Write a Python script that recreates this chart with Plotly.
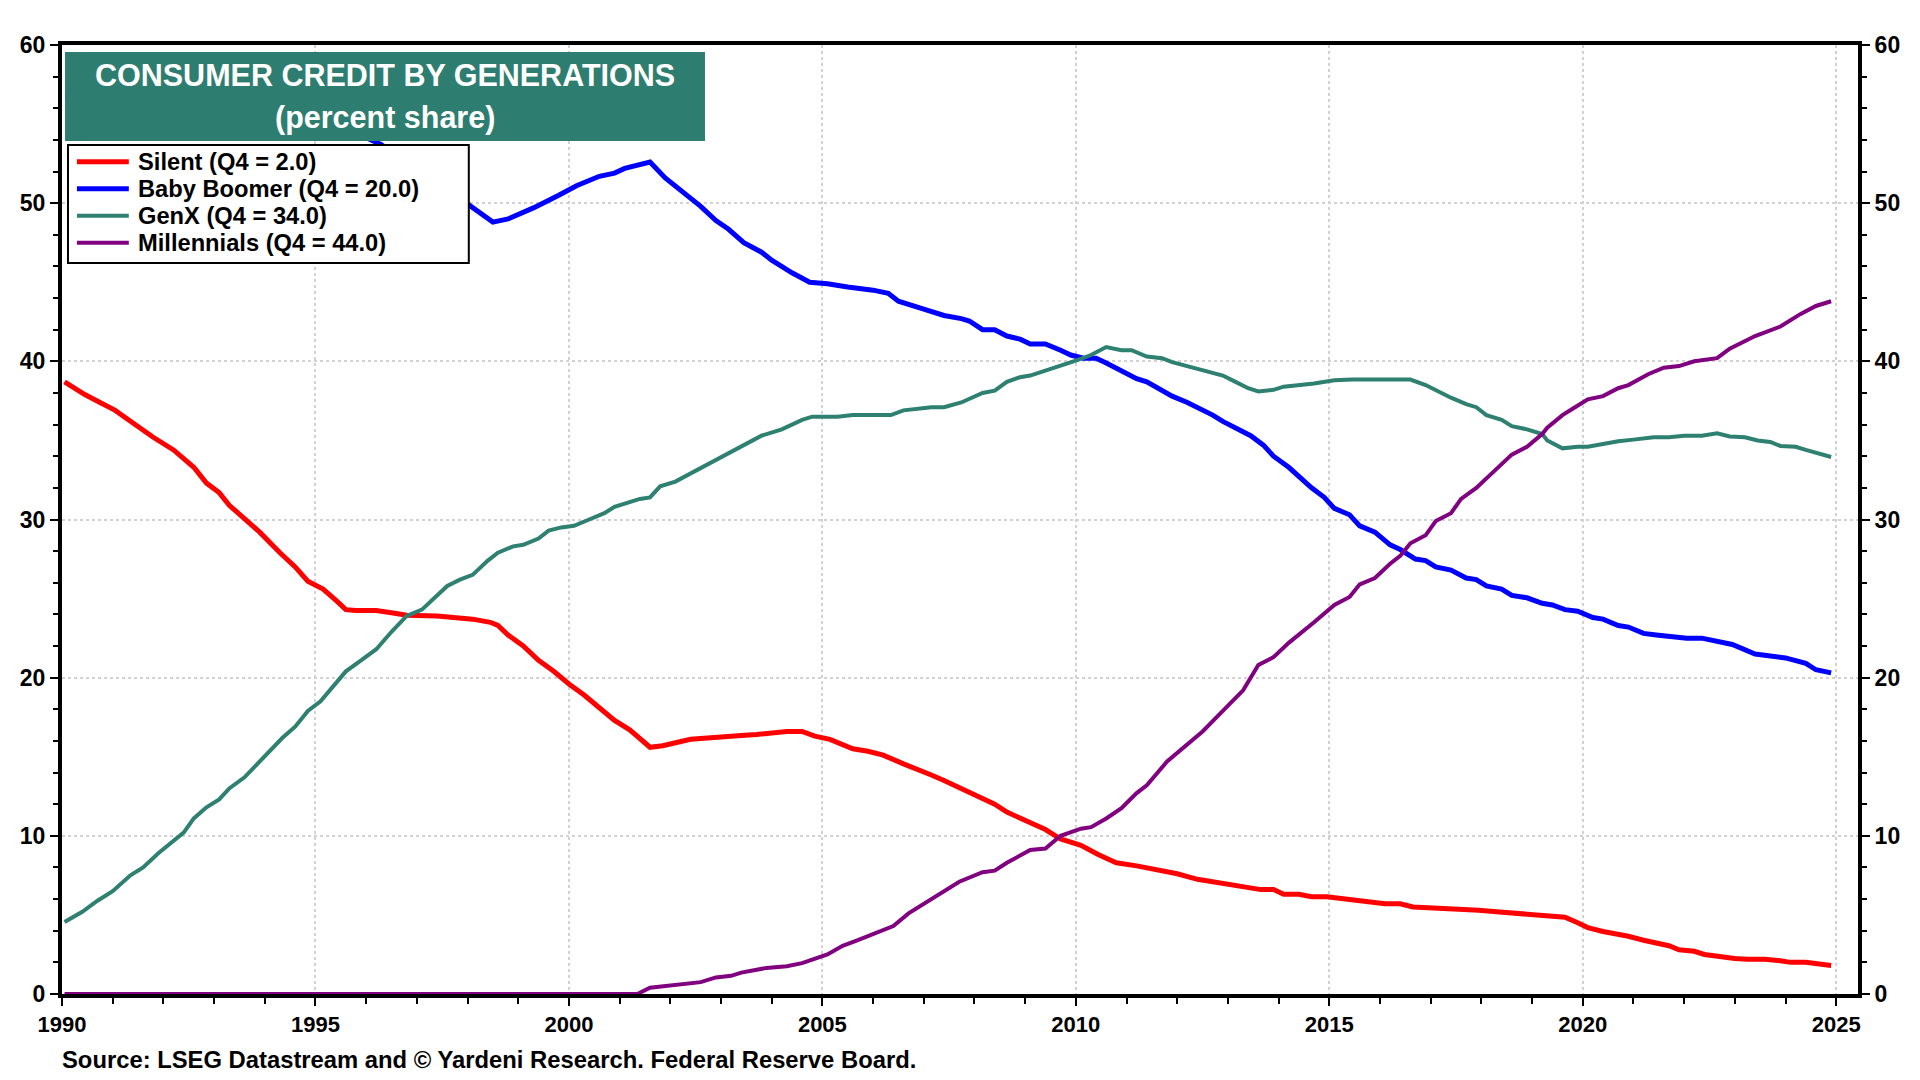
import plotly.graph_objects as go

# ---------------- data ----------------
silent_t = [1990.05, 1990.45, 1990.75, 1991.05, 1991.4, 1991.8, 1992.2, 1992.6, 1992.85, 1993.1,
            1993.3, 1993.6, 1993.9, 1994.3, 1994.6, 1994.85, 1995.15, 1995.4, 1995.6, 1995.8,
            1996.2, 1996.5, 1996.8, 1997.4, 1997.7, 1998.1, 1998.45, 1998.6, 1998.8, 1999.1,
            1999.4, 1999.7, 2000.0, 2000.3, 2000.6, 2000.9, 2001.2, 2001.6, 2001.85, 2002.2,
            2002.4, 2002.8, 2003.1, 2003.4, 2003.7, 2004.0, 2004.3, 2004.6, 2004.85, 2005.15,
            2005.4, 2005.6, 2005.9, 2006.2, 2006.6, 2006.9, 2007.15, 2007.4, 2007.74, 2008.16,
            2008.4, 2008.64, 2009.1, 2009.4, 2009.7, 2010.1, 2010.45, 2010.8, 2011.2, 2011.5,
            2011.7, 2012.0, 2012.4, 2012.7, 2012.9, 2013.35, 2013.65, 2013.9, 2014.1, 2014.4,
            2014.65, 2014.95, 2015.55, 2016.1, 2016.4, 2016.65, 2016.95, 2017.35, 2017.65, 2017.95,
            2018.3, 2018.7, 2019.0, 2019.3, 2019.65, 2019.9, 2020.1, 2020.4, 2020.7, 2020.9,
            2021.2, 2021.4, 2021.7, 2021.9, 2022.2, 2022.4, 2022.7, 2023.0, 2023.25, 2023.6,
            2023.9, 2024.1, 2024.4, 2024.6, 2024.9]
silent_v = [38.7, 37.9, 37.4, 36.9, 36.1, 35.2, 34.4, 33.3, 32.3, 31.7,
            30.9, 30.1, 29.2, 27.9, 27.0, 26.1, 25.6, 24.9, 24.3, 24.25,
            24.25, 24.1, 23.95, 23.9, 23.8, 23.7, 23.5, 23.3, 22.7, 22.0,
            21.1, 20.4, 19.6, 18.9, 18.1, 17.3, 16.7, 15.6, 15.7, 15.95,
            16.1, 16.2, 16.3, 16.35, 16.4, 16.5, 16.6, 16.6, 16.3, 16.1,
            15.8, 15.5, 15.35, 15.1, 14.55, 14.2, 13.85, 13.5, 13.0, 12.4,
            12.0, 11.5, 10.8, 10.4, 9.8, 9.4, 8.8, 8.3, 8.1, 7.9,
            7.75, 7.6, 7.25, 7.1, 6.95, 6.8, 6.6, 6.6, 6.3, 6.3,
            6.15, 6.15, 5.95, 5.7, 5.7, 5.5, 5.45, 5.4, 5.3, 5.3,
            5.2, 5.1, 5.0, 4.95, 4.85, 4.5, 4.2, 3.95, 3.8, 3.65,
            3.4, 3.25, 3.05, 2.8, 2.7, 2.5, 2.35, 2.25, 2.2, 2.2,
            2.1, 2.0, 2.0, 1.9, 1.8]

boomer_t = [1990.05, 1991.0, 1992.0, 1993.0, 1994.0, 1995.0, 1995.7, 1996.1, 1996.3, 1996.7,
            1997.2, 1997.6, 1998.0, 1998.5, 1998.8, 1999.3, 1999.8, 2000.15, 2000.6, 2000.9,
            2001.1, 2001.6, 2001.9, 2002.1, 2002.6, 2002.9, 2003.15, 2003.45, 2003.8, 2004.0,
            2004.4, 2004.75, 2005.1, 2005.5, 2006.0, 2006.3, 2006.5, 2007.0, 2007.4, 2007.74,
            2007.9, 2008.16, 2008.4, 2008.64, 2008.9, 2009.1, 2009.4, 2009.7, 2009.9, 2010.15,
            2010.4, 2010.6, 2010.9, 2011.2, 2011.4, 2011.7, 2011.9, 2012.2, 2012.4, 2012.7,
            2012.9, 2013.2, 2013.45, 2013.7, 2013.9, 2014.2, 2014.4, 2014.65, 2014.9, 2015.1,
            2015.4, 2015.6, 2015.9, 2016.2, 2016.4, 2016.7, 2016.9, 2017.1, 2017.4, 2017.7,
            2017.9, 2018.1, 2018.4, 2018.6, 2018.9, 2019.2, 2019.4, 2019.65, 2019.9, 2020.2,
            2020.4, 2020.7, 2020.9, 2021.2, 2021.45, 2021.75, 2022.05, 2022.35, 2022.65, 2022.95,
            2023.4, 2023.7, 2024.0, 2024.4, 2024.6, 2024.9]
boomer_v = [56.7, 56.6, 56.1, 56.0, 55.8, 55.4, 54.6, 53.95, 53.7, 52.6,
            51.5, 50.6, 49.95, 48.8, 49.0, 49.7, 50.5, 51.1, 51.7, 51.9,
            52.2, 52.6, 51.6, 51.1, 49.8, 48.9, 48.35, 47.5, 46.9, 46.4,
            45.6, 45.0, 44.9, 44.7, 44.5, 44.3, 43.8, 43.3, 42.9, 42.7,
            42.55, 42.0, 42.0, 41.6, 41.4, 41.1, 41.1, 40.7, 40.4, 40.2,
            40.2, 39.9, 39.4, 38.9, 38.7, 38.2, 37.8, 37.4, 37.1, 36.6,
            36.2, 35.7, 35.3, 34.7, 34.0, 33.3, 32.7, 32.0, 31.4, 30.7,
            30.3, 29.6, 29.2, 28.4, 28.1, 27.5, 27.4, 27.0, 26.8, 26.3,
            26.2, 25.8, 25.6, 25.2, 25.05, 24.7, 24.6, 24.3, 24.2, 23.8,
            23.7, 23.3, 23.2, 22.8, 22.7, 22.6, 22.5, 22.5, 22.3, 22.1,
            21.5, 21.4, 21.25, 20.9, 20.5, 20.3]

genx_t = [1990.05, 1990.4, 1990.7, 1991.0, 1991.35, 1991.6, 1991.9, 1992.2, 1992.4, 1992.6,
          1992.85, 1993.1, 1993.3, 1993.6, 1993.9, 1994.1, 1994.35, 1994.6, 1994.85, 1995.1,
          1995.4, 1995.6, 1995.9, 1996.2, 1996.5, 1996.8, 1997.1, 1997.3, 1997.6, 1997.85,
          1998.1, 1998.4, 1998.6, 1998.9, 1999.1, 1999.4, 1999.6, 1999.85, 2000.1, 2000.4,
          2000.7, 2000.9, 2001.2, 2001.4, 2001.6, 2001.8, 2002.1, 2002.4, 2002.6, 2002.9,
          2003.1, 2003.4, 2003.8, 2004.2, 2004.6, 2004.8, 2005.3, 2005.6, 2006.35, 2006.6,
          2007.15, 2007.4, 2007.74, 2008.16, 2008.4, 2008.64, 2008.9, 2009.1, 2009.4, 2009.7,
          2010.0, 2010.3, 2010.6, 2010.9, 2011.1, 2011.4, 2011.7, 2011.9, 2012.2, 2012.4,
          2012.7, 2012.9, 2013.15, 2013.4, 2013.6, 2013.9, 2014.1, 2014.4, 2014.7, 2015.1,
          2015.45, 2016.2, 2016.6, 2016.9, 2017.2, 2017.4, 2017.7, 2017.9, 2018.1, 2018.4,
          2018.6, 2018.9, 2019.2, 2019.3, 2019.6, 2019.9, 2020.1, 2020.4, 2020.7, 2021.0,
          2021.4, 2021.7, 2022.0, 2022.35, 2022.65, 2022.9, 2023.2, 2023.45, 2023.7, 2023.9,
          2024.2, 2024.4, 2024.7, 2024.9]
genx_v = [4.55, 5.2, 5.9, 6.5, 7.5, 8.0, 8.9, 9.7, 10.2, 11.1,
          11.8, 12.3, 13.0, 13.7, 14.7, 15.3, 16.2, 16.9, 17.9, 18.5,
          19.6, 20.4, 21.1, 21.8, 22.9, 23.9, 24.3, 24.9, 25.8, 26.2,
          26.5, 27.4, 27.9, 28.3, 28.4, 28.8, 29.3, 29.5, 29.6, 30.0,
          30.4, 30.8, 31.1, 31.3, 31.4, 32.1, 32.4, 32.9, 33.3, 33.8,
          34.1, 34.6, 35.3, 35.7, 36.3, 36.5, 36.5, 36.6, 36.6, 36.9,
          37.1, 37.1, 37.4, 38.0, 38.15, 38.7, 39.0, 39.1, 39.4, 39.7,
          40.05, 40.4, 40.9, 40.7, 40.7, 40.3, 40.2, 39.95, 39.7, 39.5,
          39.3, 39.1, 38.7, 38.3, 38.1, 38.2, 38.4, 38.5, 38.6, 38.8,
          38.85, 38.85, 38.85, 38.5, 38.0, 37.7, 37.3, 37.1, 36.6, 36.3,
          35.9, 35.7, 35.4, 35.0, 34.5, 34.6, 34.6, 34.8, 34.95, 35.05,
          35.2, 35.2, 35.3, 35.3, 35.45, 35.25, 35.2, 35.0, 34.9, 34.65,
          34.6, 34.4, 34.15, 33.95]

mill_t = [1990.05, 2001.35, 2001.6, 2002.1, 2002.6, 2002.9, 2003.2, 2003.4, 2003.6, 2003.9,
          2004.3, 2004.6, 2005.1, 2005.4, 2005.7, 2006.1, 2006.4, 2006.7, 2007.0, 2007.3,
          2007.7, 2008.16, 2008.4, 2008.64, 2009.1, 2009.4, 2009.7, 2010.1, 2010.3, 2010.6,
          2010.9, 2011.2, 2011.4, 2011.8, 2012.1, 2012.5, 2012.9, 2013.3, 2013.6, 2013.9,
          2014.2, 2014.4, 2014.7, 2015.1, 2015.4, 2015.6, 2015.9, 2016.2, 2016.4, 2016.6,
          2016.9, 2017.1, 2017.4, 2017.6, 2017.9, 2018.3, 2018.6, 2018.9, 2019.2, 2019.3,
          2019.6, 2019.8, 2020.1, 2020.4, 2020.7, 2020.9, 2021.3, 2021.6, 2021.9, 2022.2,
          2022.4, 2022.65, 2022.9, 2023.4, 2023.9, 2024.3, 2024.6, 2024.9]
mill_v = [0.0, 0.0, 0.4, 0.55, 0.75, 1.05, 1.15, 1.35, 1.45, 1.65,
          1.75, 1.95, 2.5, 3.05, 3.4, 3.9, 4.3, 5.1, 5.7, 6.3,
          7.1, 7.7, 7.8, 8.3, 9.1, 9.2, 10.0, 10.45, 10.55, 11.1,
          11.75, 12.7, 13.2, 14.7, 15.5, 16.6, 17.9, 19.2, 20.8, 21.3,
          22.2, 22.7, 23.5, 24.6, 25.1, 25.9, 26.3, 27.2, 27.7, 28.5,
          29.0, 29.9, 30.4, 31.3, 32.0, 33.2, 34.1, 34.6, 35.4, 35.8,
          36.6, 37.0, 37.6, 37.8, 38.3, 38.5, 39.2, 39.6, 39.7, 40.0,
          40.1, 40.2, 40.8, 41.6, 42.2, 43.0, 43.5, 43.8]

series_names = ["Silent (Q4 = 2.0)", "Baby Boomer (Q4 = 20.0)", "GenX (Q4 = 34.0)", "Millennials (Q4 = 44.0)"]
series_colors = ["#FF0000", "#0000FF", "#2E8070", "#800080"]
series_widths = [5, 5, 4, 4]

x_ticks = [1990, 1995, 2000, 2005, 2010, 2015, 2020, 2025]
y_ticks = [0, 10, 20, 30, 40, 50, 60]

title_line1 = "CONSUMER CREDIT BY GENERATIONS"
title_line2 = "(percent share)"
source_text = "Source: LSEG Datastream and © Yardeni Research. Federal Reserve Board."

FONT = "Liberation Sans, Arial, sans-serif"

# ---------------- figure ----------------
fig = go.Figure()
for t, v, name, col, w in zip([silent_t, boomer_t, genx_t, mill_t],
                              [silent_v, boomer_v, genx_v, mill_v],
                              series_names, series_colors, series_widths):
    fig.add_trace(go.Scatter(x=t, y=v, mode="lines", name=name, showlegend=False,
                             line=dict(color=col, width=w)))

axis_common = dict(
    showline=True, linecolor="black", linewidth=4,
    ticks="outside", ticklen=8, tickwidth=2, tickcolor="black",
    showgrid=True, gridcolor="#d2d2d2", gridwidth=2, griddash="dot",
    zeroline=False,
)
xfont = dict(family=FONT, size=22, color="black", weight="bold")
yfont = dict(family=FONT, size=23, color="black", weight="bold")

fig.update_layout(
    width=1904, height=1064,
    margin=dict(l=52, r=51, t=37, b=78),
    paper_bgcolor="white", plot_bgcolor="white",
    xaxis=dict(range=[1990, 2025.43], tickmode="array", tickvals=x_ticks,
               mirror=True, tickfont=xfont,
               minor=dict(dtick=1, ticks="outside", ticklen=6, tickwidth=2,
                          tickcolor="black", showgrid=False),
               **axis_common),
    yaxis=dict(range=[0, 60], tickmode="array", tickvals=y_ticks, tickfont=yfont,
               minor=dict(dtick=2, ticks="outside", ticklen=5, tickwidth=2,
                          tickcolor="black", showgrid=False),
               **axis_common),
    yaxis2=dict(range=[0, 60], tickmode="array", tickvals=y_ticks, tickfont=yfont,
                overlaying="y", side="right", anchor="x",
                minor=dict(dtick=2, ticks="outside", ticklen=5, tickwidth=2,
                           tickcolor="black", showgrid=False),
                **{**axis_common, "showgrid": False}),
    showlegend=False,
)

# invisible helper so the right axis is drawn
fig.add_trace(go.Scatter(x=[], y=[], yaxis="y2", showlegend=False, hoverinfo="skip"))

# white strip left of the title box (hides the line ends there, as in the original)
fig.add_shape(type="rect", xref="paper", yref="paper",
              x0=0.0, x1=0.0017, y0=0.8988, y1=0.9926,
              fillcolor="white", line=dict(width=0), layer="above")
# title box
fig.add_shape(type="rect", xref="paper", yref="paper",
              x0=0.0017, x1=0.358, y0=0.8988, y1=0.9926,
              fillcolor="#2E7D71", line=dict(width=0), layer="above")
fig.add_annotation(text=title_line1, xref="paper", yref="paper", x=0.18, y=0.9684,
                   xanchor="center", yanchor="middle", showarrow=False,
                   font=dict(family=FONT, size=30.5, color="white", weight="bold"))
fig.add_annotation(text=title_line2, xref="paper", yref="paper", x=0.18, y=0.9231,
                   xanchor="center", yanchor="middle", showarrow=False,
                   font=dict(family=FONT, size=30.5, color="white", weight="bold"))

# legend box (drawn as a framed key above the lines)
fig.add_shape(type="rect", xref="paper", yref="paper",
              x0=0.00333, x1=0.2265, y0=0.7703, y1=0.8946,
              fillcolor="white", line=dict(color="black", width=2), layer="above")
row_top, row_step = 0.8771, 0.02845
for i, (name, col, w) in enumerate(zip(series_names, series_colors, series_widths)):
    yy = row_top - i * row_step
    fig.add_shape(type="line", xref="paper", yref="paper",
                  x0=0.00833, x1=0.0372, y0=yy, y1=yy,
                  line=dict(color=col, width=w), layer="above")
    fig.add_annotation(text=name, xref="paper", yref="paper", x=0.0413, y=yy,
                       xanchor="left", yanchor="middle", showarrow=False,
                       font=dict(family=FONT, size=23.7, color="black", weight="bold"))

# source
fig.add_annotation(text=source_text, xref="paper", yref="paper", x=-0.001, y=-0.0685,
                   xanchor="left", yanchor="middle", showarrow=False,
                   font=dict(family=FONT, size=23.8, color="black", weight="bold"))

fig.write_html("out.html")
